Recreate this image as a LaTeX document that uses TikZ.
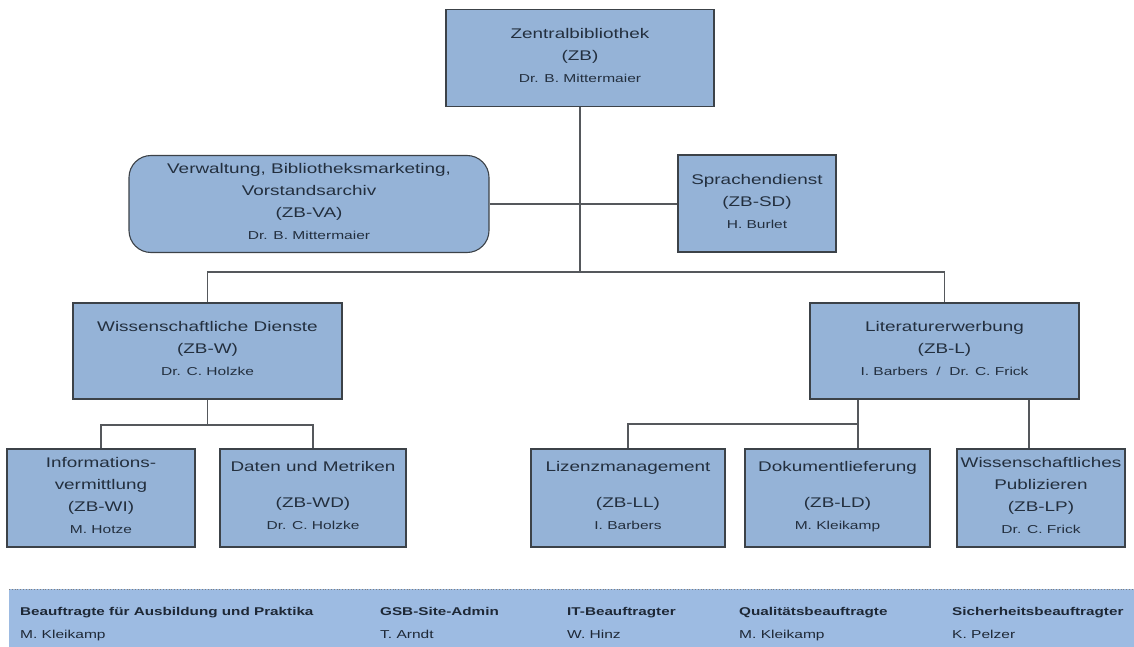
\documentclass[tikz,border=0pt]{standalone}
\usepackage{fontspec}
\setmainfont{Liberation Sans}[FakeStretch=1.35]
\usetikzlibrary{positioning}
\definecolor{unitblue}{HTML}{95B3D7}
\definecolor{bandblue}{HTML}{9DBBE2}
\definecolor{unitline}{HTML}{3C4248}
\definecolor{wire}{HTML}{55585C}
\definecolor{unittext}{HTML}{232F3E}
\definecolor{bandtext}{HTML}{1E2836}
\newcommand{\who}[1]{{\fontsize{11.5}{14}\selectfont\strut #1}}

\begin{document}
\begin{tikzpicture}[x=1pt,y=-1pt]
    \tikzstyle{every node}=[font=\fontsize{14}{22}\selectfont, text=unittext]
    \tikzstyle{unit} = [rectangle, draw=unitline, fill=unitblue, line width=1.1pt, align=center, inner sep=0pt]
    \tikzstyle{staff} = [unit, rounded corners=22pt]
    \tikzstyle{link} = [draw=wire, line width=1.2pt]
    \tikzstyle{duty} = [anchor=base west, inner sep=0pt, text=bandtext, font=\fontsize{11.3}{13}\selectfont\bfseries]
    \tikzstyle{holder} = [anchor=base west, inner sep=0pt, text=bandtext, font=\fontsize{11.5}{13}\selectfont]

    \useasboundingbox (0,0) rectangle (1134,647);

    % Leitung und Stabsstellen
    \node[unit, minimum width=268, minimum height=97](zb) at (580,58) {Zentralbibliothek\\(ZB)\\\who{Dr. B. Mittermaier}};
    \node[staff, minimum width=360, minimum height=97](va) at (309,204) {Verwaltung, Bibliotheksmarketing,\\Vorstandsarchiv\\(ZB-VA)\\\who{Dr. B. Mittermaier}};
    \node[unit, minimum width=158, minimum height=97](sd) at (757,203.5) {Sprachendienst\\(ZB-SD)\\\who{H. Burlet}};

    % Abteilungen
    \node[unit, minimum width=269, minimum height=96](wd) at (207.5,351) {Wissenschaftliche Dienste\\(ZB-W)\\\who{Dr. C. Holzke}};
    \node[unit, minimum width=269, minimum height=96](lit) at (944.5,351) {Literaturerwerbung\\(ZB-L)\\\who{I. Barbers~~/~~Dr. C. Frick}};

    % Fachbereiche
    \node[unit, minimum width=188, minimum height=98](info) at (101,498) {Informations-\\vermittlung\\(ZB-WI)\\\who{M. Hotze}};
    \node[unit, minimum width=186, minimum height=98](daten) at (313,498) {Daten und Metriken\\[14pt](ZB-WD)\\\who{Dr. C. Holzke}};
    \node[unit, minimum width=194, minimum height=98](lizenz) at (628,498) {Lizenzmanagement\\[14pt](ZB-LL)\\\who{I. Barbers}};
    \node[unit, minimum width=185, minimum height=98](dok) at (837.5,498) {Dokumentlieferung\\[14pt](ZB-LD)\\\who{M. Kleikamp}};
    \node[unit, minimum width=168, minimum height=98](wp) at (1041,498) {Wissenschaftliches\\Publizieren\\(ZB-LP)\\\who{Dr. C. Frick}};

    % Verbindungen
    \coordinate (hub) at (580,272);
    \coordinate (wsplit) at (207.5,425);
    \coordinate (lsplit) at (858,424);
    \coordinate (ldrop) at (1029,0);
    \draw[link] (zb.south) -- (hub);
    \draw[link] (wd.north) |- (hub) -| (lit.north);
    \draw[link] (va.east) -- (va.east -| sd.west);
    \draw[link] (wd.south) -- (wsplit);
    \draw[link] (info.north) |- (wsplit) -| (daten.north);
    \draw[link] (lit.south -| lsplit) -- (dok.north -| lsplit);
    \draw[link] (lsplit) -| (lizenz.north);
    \draw[link] (lit.south -| ldrop) -- (wp.north -| ldrop);

    % Beauftragte
    \node[fill=bandblue, minimum width=1125, minimum height=58, inner sep=0pt, anchor=north west](band) at (9,589) {};
    \draw[gray, dotted, line width=0.8pt] (band.north west) -- (band.north east);
    \foreach \x/\duty/\holder/\id in {20/Beauftragte für Ausbildung und Praktika/M. Kleikamp/ausb,
        380/GSB-Site-Admin/T. Arndt/gsb, 567/IT-Beauftragter/W. Hinz/it,
        739/Qualitätsbeauftragte/M. Kleikamp/qm, 952/Sicherheitsbeauftragter/K. Pelzer/sich}{
        \node[duty](\id) at (\x,615) {\duty};
        \node[holder](\id-name) at (\x,638.5) {\holder};
    }
\end{tikzpicture}
\end{document}
